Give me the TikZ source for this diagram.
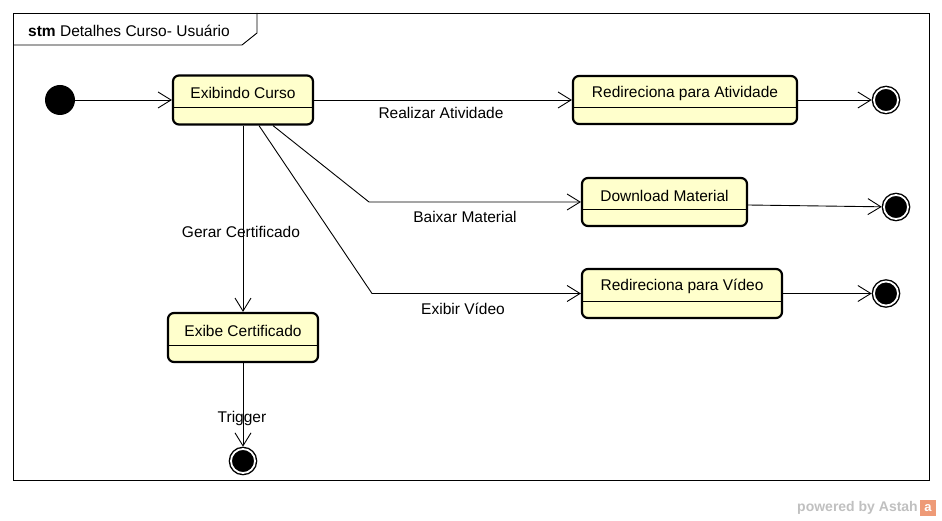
\documentclass[tikz,border=0pt]{standalone}
\usepackage{fontspec}
\setmainfont{Liberation Sans}
\usepackage{tikz}
\usetikzlibrary{arrows.meta,positioning,calc}
\definecolor{stateyel}{HTML}{FFFFCC}
\definecolor{astahgray}{HTML}{C0C0C0}
\definecolor{astahorange}{HTML}{EE9A77}

\begin{document}
\begin{tikzpicture}[x=1pt,y=-1pt,font=\fontsize{15.5}{18}\selectfont,
  state/.style={draw,line width=2.2pt,rounded corners=6pt,fill=stateyel,inner sep=0pt},
  lbl/.style={inner sep=0pt},
  trans/.style={-{Straight Barb[length=13pt,width=16pt]},line width=0.9pt},
  final/.style={circle,draw,fill=black,minimum size=24pt,inner sep=0pt,line width=1.4pt,double=white,double distance=1.8pt,outer sep=2.3pt}]
\useasboundingbox (0,0) rectangle (942,521);
\draw[line width=0.9pt] (13,13) rectangle (929,480);
\draw[line width=0.9pt] (13,45) -- (242,45) -- (257,33) -- (257,13);
\node[lbl,anchor=west] (title) at (28,31) {\textbf{stm} Detalhes Curso- Usuário};
\node[circle,fill=black,minimum size=30pt,inner sep=0pt] (init) at (60,100) {};
\foreach \nm/\cx/\cy/\w/\h/\txt in {exib/243/100/140/49/Exibindo Curso,
    ativ/685/100/224/48/Redireciona para Atividade,
    down/664.5/202/165/48/Download Material,
    video/682/293.5/200/49/Redireciona para Vídeo,
    cert/243/337.5/150/49/Exibe Certificado}
  {\node[state,minimum width=\w pt,minimum height=\h pt] (\nm) at (\cx,\cy) {};
   \node[lbl] (\nm-t) at ($(\nm.north)+(0,19)$) {\txt};
   \draw[line width=0.9pt] ($(\nm.south west)+(0,-18)$) -- ($(\nm.south east)+(0,-18)$);}
\node[final] (f1) at (886,100) {};
\node[final] (f2) at (896,207) {};
\node[final] (f3) at (886,293.5) {};
\node[final] (f4) at (243,461) {};
\coordinate (b1) at (369,202);
\coordinate (b2) at (372,293.5);
\draw[trans] (init) -- (exib.west);
\draw[trans] (exib.east) -- (ativ.west);
\draw[trans] ($(exib.south)+(30,0)$) -- (b1) -- (down.west);
\draw[trans] ($(exib.south)+(16,0)$) -- (b2) -- (video.west);
\draw[trans] (exib.south) -- (cert.north);
\draw[trans] (ativ.east) -- (f1);
\draw[trans] ($(down.east)+(0,3)$) -- (f2);
\draw[trans] (video.east) -- (f3);
\draw[trans] (cert.south) -- (f4);
\node[lbl] (l1) at (441,113) {Realizar Atividade};
\node[lbl] (l2) at (465,217) {Baixar Material};
\node[lbl] (l3) at (463,309) {Exibir Vídeo};
\node[lbl] (l4) at (241,232) {Gerar Certificado};
\node[lbl] (l5) at (242,418) {Trigger};
\node[lbl,text=astahgray,anchor=east] (pwr) at (918,508) {\fontsize{14}{16}\selectfont\bfseries powered by Astah};
\node[fill=astahorange,minimum size=16pt,inner sep=0pt,text=white] (logo) at (928,508) {\fontsize{13}{13}\selectfont\bfseries a};
\end{tikzpicture}
\end{document}
